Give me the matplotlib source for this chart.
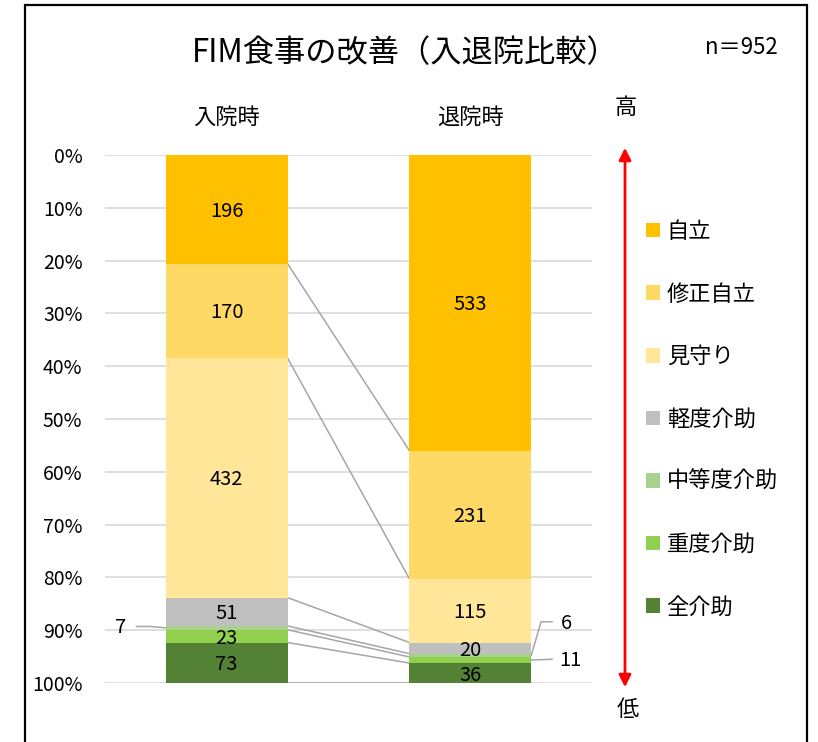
import matplotlib
matplotlib.use('Agg')
import matplotlib.pyplot as plt
from matplotlib.patches import Patch, Rectangle, FancyArrowPatch
import numpy as np

plt.rcParams['font.family'] = ['Noto Sans CJK JP', 'DejaVu Sans']

# データ
periods = ['入院時', '退院時']
levels = ['自立', '修正自立', '見守り', '軽度介助', '中等度介助', '重度介助', '全介助']
admission = [196, 170, 432, 51, 7, 23, 73]
discharge = [533, 231, 115, 20, 6, 11, 36]
colors = ['#FFC000', '#FFD966', '#FFE699', '#BFBFBF', '#A9D18E', '#92D050', '#548235']
n_total = 952

counts = np.array([admission, discharge], dtype=float)   # shape (2, 7)
frac = counts / counts.sum(axis=1, keepdims=True)
tops = np.cumsum(frac, axis=1) - frac
ends = np.cumsum(frac, axis=1)

fig = plt.figure(figsize=(8.18, 7.42), dpi=100)
ax = fig.add_axes([0.128, 0.0795, 0.596, 0.7116])

x = np.arange(len(periods))
w = 0.5
for j in range(len(levels)):
    ax.bar(x, frac[:, j], w, bottom=tops[:, j], color=colors[j], zorder=2)

# 区分線
for j in range(len(levels)):
    ax.plot([x[0] + w/2, x[1] - w/2], [ends[0, j], ends[1, j]],
            color='#A6A6A6', lw=1.1, zorder=1)

# 値ラベル（小さい区分は外側）
small = {(0, 4), (1, 4), (1, 5)}
for i in range(len(periods)):
    for j in range(len(levels)):
        if (i, j) in small:
            continue
        ax.text(x[i], tops[i, j] + frac[i, j]/2 + 0.004, f'{int(counts[i, j])}',
                ha='center', va='center', fontsize=14.5, zorder=3)

mid = lambda i, j: tops[i, j] + frac[i, j]/2
# 7
ax.plot([-0.37, -0.31, -0.25], [0.893, 0.893, mid(0, 4)], color='#A6A6A6', lw=1.1, clip_on=False)
ax.text(-0.435, 0.895, f'{int(counts[0, 4])}', ha='center', va='center', fontsize=14.5)
# 6
ax.plot([1.25, 1.29, 1.335], [mid(1, 4), 0.884, 0.884], color='#A6A6A6', lw=1.1, clip_on=False)
ax.text(1.395, 0.888, f'{int(counts[1, 4])}', ha='center', va='center', fontsize=14.5)
# 11
ax.plot([1.25, 1.335], [mid(1, 5), 0.955], color='#A6A6A6', lw=1.1, clip_on=False)
ax.text(1.41, 0.957, f'{int(counts[1, 5])}', ha='center', va='center', fontsize=14.5)

ax.set_xlim(-0.5, 1.5)
ax.set_ylim(1, 0)
ax.set_yticks(np.linspace(0, 1, 11))
ax.set_yticklabels([f'{int(round(t*100))}%' for t in np.linspace(0, 1, 11)], fontsize=14)
ax.xaxis.tick_top()
ax.set_xticks(x)
ax.set_xticklabels(periods, fontsize=16)
ax.tick_params(axis='both', length=0)
ax.tick_params(axis='y', pad=16)
ax.tick_params(axis='x', pad=19)
ax.yaxis.grid(True, color='#D9D9D9', lw=1.2, zorder=0)
ax.set_axisbelow(True)
for s in ax.spines.values():
    s.set_visible(False)

fig.text(405/818, 1 - 53/742, 'FIM食事の改善（入退院比較）', ha='center', va='center', fontsize=22.5)
fig.text(741/818, 1 - 48/742, f'n＝{n_total}', ha='center', va='center', fontsize=16)

# 高低の矢印
arrow = FancyArrowPatch((625/818, 1 - 145/742), (625/818, 1 - 690/742),
                        transform=fig.transFigure, arrowstyle='<|-|>',
                        mutation_scale=18, color='red', lw=2)
fig.patches.append(arrow)
fig.text(626/818, 1 - 108/742, '高', ha='center', va='center', fontsize=16)
fig.text(628/818, 1 - 710/742, '低', ha='center', va='center', fontsize=16)

handles = [Patch(facecolor=c, edgecolor='none') for c in colors]
fig.legend(handles, levels, loc='upper left', bbox_to_anchor=(626/818, 1 - 200/742),
           frameon=False, fontsize=16, handlelength=0.63, handleheight=0.63,
           handletextpad=0.3, labelspacing=1.78)

fig.patches.append(Rectangle((25/818, -0.05), (807 - 25)/818, 1.05 - 5/742,
                             transform=fig.transFigure, fill=False,
                             edgecolor='black', lw=1.6))

fig.savefig('out.png', dpi=100)
